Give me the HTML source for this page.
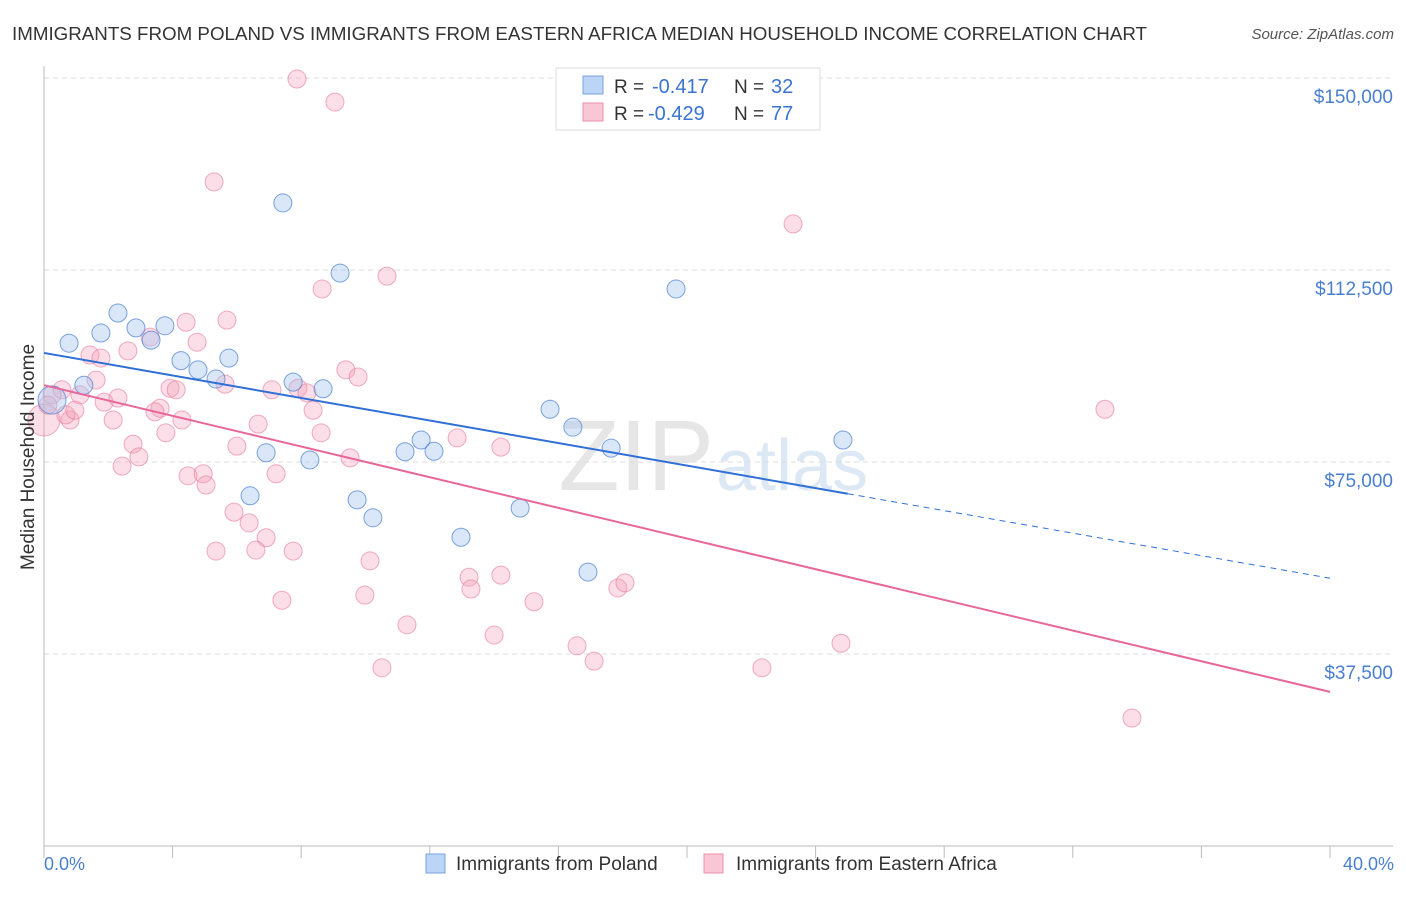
<!DOCTYPE html>
<html><head><meta charset="utf-8"><style>
body{margin:0;background:#fff;font-family:"Liberation Sans",sans-serif}
svg text{font-family:"Liberation Sans",sans-serif}
</style></head><body>
<svg id="c" width="1406" height="892" xmlns="http://www.w3.org/2000/svg">
<text x="12" y="40" font-size="18" fill="#333" textLength="1135" lengthAdjust="spacingAndGlyphs">IMMIGRANTS FROM POLAND VS IMMIGRANTS FROM EASTERN AFRICA MEDIAN HOUSEHOLD INCOME CORRELATION CHART</text>
<text x="1394" y="39" font-size="15" fill="#555" font-style="italic" text-anchor="end">Source: ZipAtlas.com</text>
<text x="714" y="490" font-size="100" fill="#e6e6e6" font-family="Liberation Serif" text-anchor="end">ZIP</text>
<text x="716" y="490" font-size="72" fill="#dde8f5">atlas</text>
<g id="grid"></g><g id="axes"></g><g id="pts"></g><g id="lines"></g>
<text transform="translate(34,457) rotate(-90)" font-size="19" fill="#333" text-anchor="middle">Median Household Income</text>
<text x="44" y="870" font-size="18" fill="#4a7fd0">0.0%</text>
<text x="1394" y="870" font-size="18" fill="#4a7fd0" text-anchor="end">40.0%</text>
<g>
<rect x="556" y="68" width="264" height="62" fill="#fff" stroke="#ddd"/>
<rect x="583" y="76" width="20" height="18" fill="#bcd4f5" stroke="#7aa3e0"/>
<rect x="583" y="103" width="20" height="18" fill="#f9c6d5" stroke="#ec90ac"/>
<text x="614" y="93" font-size="19" fill="#333">R =</text>
<text x="652" y="93" font-size="20" fill="#3a73d1">-0.417</text>
<text x="734" y="93" font-size="19" fill="#333">N =</text>
<text x="771" y="93" font-size="20" fill="#3a73d1">32</text>
<text x="614" y="120" font-size="19" fill="#333">R =</text>
<text x="648" y="120" font-size="20" fill="#3a73d1">-0.429</text>
<text x="734" y="120" font-size="19" fill="#333">N =</text>
<text x="771" y="120" font-size="20" fill="#3a73d1">77</text>
</g>
<g>
<rect x="426" y="854" width="19" height="19" fill="#bcd4f5" stroke="#7aa3e0"/>
<text x="456" y="870" font-size="19" fill="#333">Immigrants from Poland</text>
<rect x="704" y="854" width="19" height="19" fill="#f9c6d5" stroke="#ec90ac"/>
<text x="736" y="870" font-size="19" fill="#333">Immigrants from Eastern Africa</text>
</g>
</svg>
<script>
const yTicks=[37500,75000,112500,150000];
const yTickLabels=["$37,500","$75,000","$112,500","$150,000"];
const polandX=[0.78,1.77,2.30,2.86,3.33,3.76,4.26,4.79,5.35,5.75,1.24,7.43,9.21,7.75,8.68,6.91,8.27,6.41,9.74,10.23,11.23,11.73,12.13,12.97,14.81,15.74,16.45,17.64,16.92,19.66,24.85,0.25];
const polandY=[98.2,100.2,104.1,101.2,98.8,101.6,94.8,93.0,91.2,95.3,90.0,125.6,111.9,90.6,89.3,76.8,75.4,68.4,67.6,64.1,77.0,79.3,77.1,60.3,66.0,85.3,81.8,77.7,53.5,108.8,79.3,87.1];
const africaX=[7.87,9.05,5.29,23.30,10.67,8.65,5.69,4.42,3.30,4.76,1.43,1.77,2.61,1.62,1.12,0.56,2.15,0.81,1.87,2.30,3.92,4.11,3.61,3.45,4.29,3.79,2.77,2.95,2.43,5.63,6.00,7.09,6.66,7.90,8.18,8.37,8.62,9.39,9.77,9.52,12.85,14.21,33.00,4.48,4.95,5.04,5.91,6.38,6.91,5.35,6.59,7.75,7.22,10.14,7.40,9.98,11.29,10.51,13.22,13.28,14.21,14.00,15.24,16.58,17.11,17.85,18.07,22.33,24.79,33.84,0,0.25,0.68,0.12,0.96];
const africaY=[149.8,145.3,129.7,121.5,111.3,108.8,102.7,102.3,99.4,98.4,95.9,95.3,96.7,91.0,88.1,89.1,83.2,83.2,86.7,87.5,89.4,89.1,85.5,84.8,83.2,80.7,78.5,76.0,74.2,90.2,78.1,89.1,82.4,89.4,88.5,85.1,80.7,93.0,91.6,75.8,79.7,77.9,85.3,72.3,72.7,70.5,65.2,63.1,60.2,57.6,57.8,57.6,72.7,55.7,48.0,49.0,43.2,34.8,52.5,50.2,52.9,41.2,47.7,39.1,36.1,50.4,51.4,34.8,39.6,25.0,83.2,88.1,84.2,86.1,85.1];
const polandTrend=[96.3,52.3]; // values at x=0 and x=40
const africaTrend=[90.0,30.1];
const NS="http://www.w3.org/2000/svg";
const X=v=>44+v/40*1286;
const Y=v=>846-v/37.5*192;
function mk(t,a,p){const e=document.createElementNS(NS,t);for(const k in a)e.setAttribute(k,a[k]);document.getElementById(p).appendChild(e);return e;}
yTicks.forEach((t,i)=>{
 const l=mk('line',{x1:44,x2:1393,y1:Y(t/1000),y2:Y(t/1000),stroke:'#ddd','stroke-dasharray':'5,4'},'grid');
 
 
 const tx=mk('text',{x:1393,y:Y(t/1000)+25,'font-size':19,fill:'#4a7fd0','text-anchor':'end'},'grid');
 tx.textContent=yTickLabels[i];
 
 
});
const ax=mk('line',{x1:44,x2:44,y1:66,y2:846,stroke:'#bbb'},'axes');


const bx=mk('line',{x1:44,x2:1393,y1:846,y2:846,stroke:'#bbb'},'axes');


for(let i=0;i<=10;i++){
 const t=mk('line',{x1:X(i*4),x2:X(i*4),y1:846,y2:858,stroke:'#bbb'},'axes');
 
 
}
africaX.forEach((x,i)=>{
 const c=mk('circle',{cx:X(x),cy:Y(africaY[i]),r:x===0?16:9,fill:'rgba(244,160,185,0.35)',stroke:'rgba(232,120,155,0.6)','stroke-width':1},'pts');
 
 
});
polandX.forEach((x,i)=>{
 const c=mk('circle',{cx:X(x),cy:Y(polandY[i]),r:i===polandX.length-1?14:9,fill:'rgba(160,195,240,0.4)',stroke:'rgba(70,125,210,0.7)','stroke-width':1},'pts');
 
 
});
const pf=x=>polandTrend[0]+(polandTrend[1]-polandTrend[0])*x/40;
const af=x=>africaTrend[0]+(africaTrend[1]-africaTrend[0])*x/40;
const l1=mk('line',{x1:X(0),y1:Y(pf(0)),x2:X(25),y2:Y(pf(25)),stroke:'#2f6fd6','stroke-width':2},'lines');


const l2=mk('line',{x1:X(25),y1:Y(pf(25)),x2:X(40),y2:Y(pf(40)),stroke:'#2f6fd6','stroke-width':1,'stroke-dasharray':'6,5'},'lines');


const l3=mk('line',{x1:X(0),y1:Y(af(0)),x2:X(40),y2:Y(af(40)),stroke:'#e8679a','stroke-width':2},'lines');


</script>
</body></html>
